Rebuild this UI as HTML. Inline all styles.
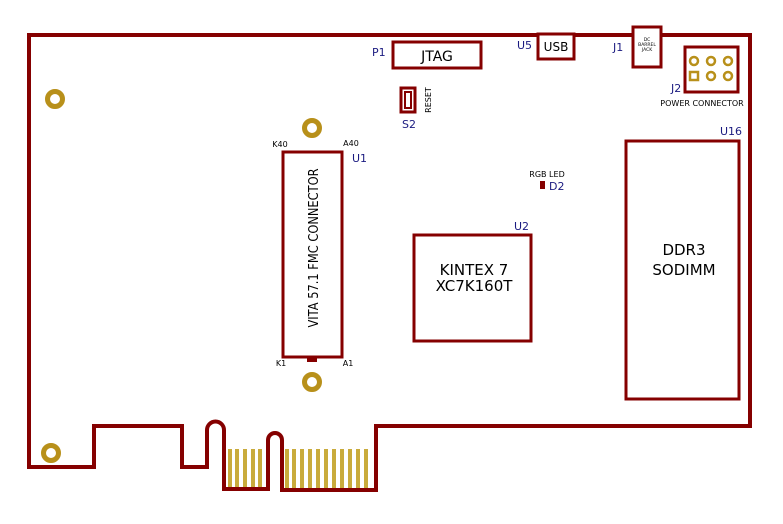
<!DOCTYPE html>
<html><head><meta charset="utf-8"><style>
html,body{margin:0;padding:0;background:#fff;}
svg{display:block;}
text{font-family:"DejaVu Sans","Liberation Sans",sans-serif;}
</style></head><body>
<svg width="783" height="524" viewBox="0 0 783 524" xmlns="http://www.w3.org/2000/svg">
<g fill="#c9ab3c">
<rect x="228" y="449" width="4" height="39"/><rect x="235" y="449" width="4" height="39"/><rect x="243" y="449" width="4" height="39"/><rect x="251" y="449" width="4" height="39"/><rect x="258" y="449" width="4" height="39"/>
<rect x="285" y="449" width="4" height="40"/><rect x="292" y="449" width="4" height="40"/><rect x="300" y="449" width="4" height="40"/><rect x="308" y="449" width="4" height="40"/><rect x="316" y="449" width="4" height="40"/><rect x="324" y="449" width="4" height="40"/><rect x="332" y="449" width="4" height="40"/><rect x="340" y="449" width="4" height="40"/><rect x="348" y="449" width="4" height="40"/><rect x="356" y="449" width="4" height="40"/><rect x="364" y="449" width="4" height="40"/>
</g>
<path d="M29,35 H750 V426 H376 V490 H282 V440 A7,7 0 0 0 268,440 V489 H224 V430 A8,8 0 0 0 207,430 V467 H182 V426 H94 V467 H29 Z" fill="none" stroke="#850000" stroke-width="4" stroke-linejoin="miter"/>
<g fill="none" stroke="#b8901a" stroke-width="5">
<circle cx="55" cy="99" r="7.5"/><circle cx="51" cy="453" r="7.5"/>
<circle cx="312" cy="128" r="7.5"/><circle cx="312" cy="382" r="7.5"/>
</g>
<g fill="#fff" stroke="#850000" stroke-width="3">
<rect x="283" y="152" width="59" height="205"/>
<rect x="393" y="42" width="88" height="26"/>
<rect x="538" y="34" width="36" height="25"/>
<rect x="633" y="27" width="28" height="40"/>
<rect x="685" y="47" width="53" height="45"/>
<rect x="414" y="235" width="117" height="106"/>
<rect x="626" y="141" width="113" height="258"/>
<rect x="401" y="88" width="14" height="24"/>
<rect x="405" y="92" width="6" height="16" stroke-width="2"/>
</g>
<rect x="307" y="356" width="10" height="6" fill="#850000"/>
<rect x="540" y="181" width="5" height="8" fill="#850000"/>
<g fill="none" stroke="#b8901a" stroke-width="2.5">
<circle cx="694" cy="61" r="4"/><circle cx="711" cy="61" r="4"/><circle cx="728" cy="61" r="4"/>
<rect x="690" y="72" width="8" height="8"/><circle cx="711" cy="76" r="4"/><circle cx="728" cy="76" r="4"/>
</g>
<g fill="#1a1a80" font-size="11">
<text x="372" y="56">P1</text><text x="517" y="49">U5</text><text x="613" y="51">J1</text>
<text x="671" y="92">J2</text><text x="720" y="135">U16</text><text x="352" y="162">U1</text>
<text x="402" y="128">S2</text><text x="549" y="190">D2</text><text x="514" y="230">U2</text>
</g>
<g fill="#000">
<text x="437" y="61" font-size="14" text-anchor="middle">JTAG</text>
<text x="556" y="51" font-size="12" text-anchor="middle">USB</text>
<text x="647" y="41" font-size="4.5" text-anchor="middle">DC</text>
<text x="647" y="46" font-size="4.5" text-anchor="middle">BARREL</text>
<text x="647" y="51" font-size="4.5" text-anchor="middle">JACK</text>
<text x="702" y="106" font-size="8" text-anchor="middle">POWER CONNECTOR</text>
<text x="547" y="177" font-size="8" text-anchor="middle">RGB LED</text>
<text transform="translate(431,100) rotate(-90)" font-size="8" text-anchor="middle">RESET</text>
<text x="280" y="147" font-size="8" text-anchor="middle">K40</text>
<text x="351" y="146" font-size="8" text-anchor="middle">A40</text>
<text x="281" y="366" font-size="8" text-anchor="middle">K1</text>
<text x="348" y="366" font-size="8" text-anchor="middle">A1</text>
<text transform="translate(318,248) rotate(-90) scale(0.88,1)" font-size="13" text-anchor="middle">VITA 57.1 FMC CONNECTOR</text>
<text x="474" y="275" font-size="15" text-anchor="middle">KINTEX 7</text>
<text x="474" y="291" font-size="15" text-anchor="middle">XC7K160T</text>
<text x="684" y="255" font-size="15" text-anchor="middle">DDR3</text>
<text x="684" y="275" font-size="15" text-anchor="middle">SODIMM</text>
</g>
</svg>
</body></html>
